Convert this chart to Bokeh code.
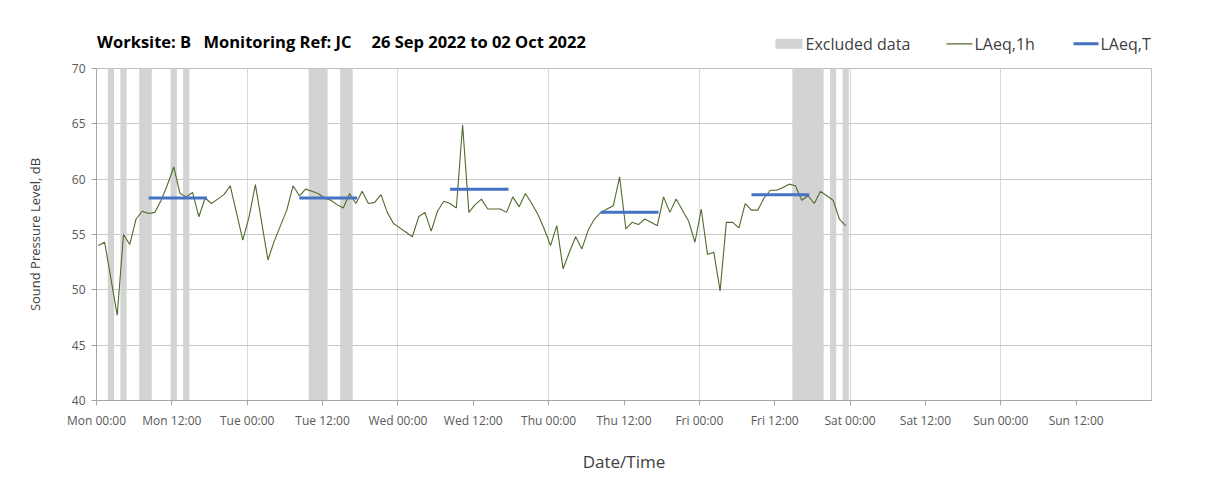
from bokeh.plotting import figure
from bokeh.layouts import column
from bokeh.models import FixedTicker, Range1d
from bokeh.core.properties import value
from bokeh.embed import file_html
from bokeh.resources import INLINE

# ---------------- data ----------------
# hourly LAeq,1h values, hour 0 = Mon 26 Sep 2022 00:00 (None = no value)
laeq_1h = [
    54.0, 54.3, None, 47.7, 55.0, 54.1, 56.4, 57.1, 56.9, 57.0, 58.1, 59.5,
    61.1, 58.7, 58.4, 58.8, 56.6, 58.3, 57.8, 58.2, 58.6, 59.4, None, 54.5,
    56.6, 59.5, None, 52.7, 54.4, 55.8, 57.2, 59.4, 58.5, 59.1, 58.9, 58.7,
    58.3, 58.1, 57.7, 57.4, 58.7, 57.8, 58.9, 57.8, 57.9, 58.6, 57.0, 56.0,
    55.6, 55.2, 54.8, 56.6, 57.0, 55.3, 57.1, 58.0, 57.8, 57.4, 64.9, 57.0,
    57.7, 58.2, 57.3, 57.3, 57.3, 57.0, 58.4, 57.5, 58.7, 57.8, 56.8, 55.5,
    54.0, 55.8, 51.9, 53.4, 54.8, 53.7, 55.4, 56.4, 57.0, 57.3, 57.6, 60.2,
    55.5, 56.1, 55.9, 56.4, 56.1, 55.8, 58.4, 57.0, 58.2, 57.2, 56.2, 54.3,
    57.3, 53.2, 53.4, 49.9, 56.1, 56.1, 55.6, 57.8, 57.2, 57.2, 58.3, 59.0,
    59.0, 59.25, 59.55, 59.4, 58.1, 58.5, 57.8, 58.9, 58.5, 58.1, 56.4, 55.8,
]
sample_offset_h = 0.3  # samples plotted slightly after the hour mark

excluded_hours = [2, 4, 7, 8, 12, 14, 34, 35, 36, 39, 40,
                  111, 112, 113, 114, 115, 117, 119]

# LAeq,T (daytime periods)
laeq_t_start = [8.3, 32.3, 56.3, 80.3, 104.3]
laeq_t_end = [17.6, 41.5, 65.6, 89.5, 113.5]
laeq_t_value = [58.3, 58.3, 59.1, 57.0, 58.6]

tick_hours = [0, 12, 24, 36, 48, 60, 72, 84, 96, 108, 120, 132, 144, 156]
tick_labels = ["Mon 00:00", "Mon 12:00", "Tue 00:00", "Tue 12:00",
               "Wed 00:00", "Wed 12:00", "Thu 00:00", "Thu 12:00",
               "Fri 00:00", "Fri 12:00", "Sat 00:00", "Sat 12:00",
               "Sun 00:00", "Sun 12:00"]
grid_hours = [0, 24, 48, 72, 96, 120, 144, 168]
y_ticks = [40, 45, 50, 55, 60, 65, 70]

title_parts = ["Worksite: B", "Monitoring Ref: JC", "26 Sep 2022 to 02 Oct 2022"]
legend_labels = ["Excluded data", "LAeq,1h", "LAeq,T"]

# ---------------- styles ----------------
FONT = "Open Sans"
TICK_COLOR = "#595959"
TEXT_COLOR = "#404040"
EXCL_COLOR = "#d3d3d3"
L1H_COLOR = "#4f6a2c"
LT_COLOR = "#4472c4"

# layout (page pixels)
FRAME_L, FRAME_W, BORDER_R = 96, 1055, 57
HEAD_H = 58

# ---------------- header (title + legend) ----------------
# the header frame is aligned with the chart frame; its ranges are page pixels
head = figure(frame_width=FRAME_W, height=HEAD_H,
              x_range=Range1d(FRAME_L, FRAME_L + FRAME_W), y_range=Range1d(HEAD_H, 0),
              x_axis_type=None, y_axis_type=None, output_backend="svg",
              toolbar_location=None, min_border_left=FRAME_L, min_border_right=BORDER_R,
              min_border_top=0, min_border_bottom=0)
head.grid.visible = False
head.outline_line_color = None
head.background_fill_color = "white"
head.border_fill_color = "white"

head.text(x=[96.5, 203, 371], y=[41, 41, 41], text=title_parts,
          text_font=value(FONT), text_font_size=value("16.5px"),
          text_font_style=value("bold"), text_color="black",
          text_baseline=value("middle"), text_align=value("left"))

head.quad(left=[775], right=[802], top=[38.3], bottom=[48.3],
          fill_color=EXCL_COLOR, line_color=None)
head.segment(x0=[946], x1=[972], y0=[43.3], y1=[43.3], line_color=L1H_COLOR, line_width=1.2)
head.segment(x0=[1073], x1=[1098], y0=[43.3], y1=[43.3], line_color=LT_COLOR, line_width=3)
head.text(x=[805, 974, 1100], y=[43, 43, 43], text=legend_labels,
          text_font=value(FONT), text_font_size=value("16px"), text_color=TEXT_COLOR,
          text_baseline=value("middle"), text_align=value("left"))

# ---------------- main chart ----------------
p = figure(frame_width=FRAME_W, frame_height=332,
           min_border_left=FRAME_L, min_border_right=BORDER_R,
           min_border_top=10, min_border_bottom=94,
           x_range=Range1d(0, 168), y_range=Range1d(40, 70),
           output_backend="svg", toolbar_location=None)
p.background_fill_color = "white"
p.border_fill_color = "white"
p.outline_line_color = "#bfbfbf"

p.xgrid.ticker = FixedTicker(ticks=grid_hours)
p.ygrid.ticker = FixedTicker(ticks=y_ticks)
p.xgrid.grid_line_color = "#d9d9d9"
p.ygrid.grid_line_color = "#c8c8c8"

p.xaxis.ticker = FixedTicker(ticks=tick_hours)
p.xaxis.major_label_overrides = {h: lab for h, lab in zip(tick_hours, tick_labels)}
p.yaxis.ticker = FixedTicker(ticks=y_ticks)
for ax in (p.xaxis, p.yaxis):
    ax.axis_line_color = "#a6a6a6"
    ax.major_tick_line_color = "#a6a6a6"
    ax.major_tick_in = 0
    ax.major_tick_out = 5
    ax.minor_tick_line_color = None
    ax.major_label_text_font = FONT
    ax.major_label_text_font_size = "12px"
    ax.major_label_text_color = TICK_COLOR
    ax.axis_label_text_font = FONT
    ax.axis_label_text_font_style = "normal"
    ax.axis_label_text_color = TEXT_COLOR
p.xaxis.major_label_standoff = 6
p.yaxis.major_label_standoff = 6
p.yaxis.axis_label = "Sound Pressure Level, dB"
p.yaxis.axis_label_text_font_size = "13px"
p.yaxis.axis_label_standoff = 25
p.xaxis.axis_label = "Date/Time"
p.xaxis.axis_label_text_font_size = "17px"
p.xaxis.axis_label_standoff = 18

# excluded data: merge consecutive excluded hours into blocks
blocks = []
for h in sorted(excluded_hours):
    if blocks and h == blocks[-1][1] + 1:
        blocks[-1][1] = h
    else:
        blocks.append([h, h])
p.quad(left=[b[0] + sample_offset_h - 0.5 for b in blocks],
       right=[b[1] + sample_offset_h + 0.5 for b in blocks],
       top=70, bottom=40, fill_color=EXCL_COLOR, line_color=None)

# LAeq,1h line
xs = [h + sample_offset_h for h, v in enumerate(laeq_1h) if v is not None]
ys = [v for v in laeq_1h if v is not None]
p.line(xs, ys, line_color=L1H_COLOR, line_width=1.1)

# LAeq,T segments
p.segment(x0=laeq_t_start, x1=laeq_t_end, y0=laeq_t_value, y1=laeq_t_value,
          line_color=LT_COLOR, line_width=3)

layout = column(head, p, spacing=0,
                styles={"outline": "1px solid #d9d9d9", "outline-offset": "-5px"})
open("out.html", "w").write(file_html(layout, INLINE))
